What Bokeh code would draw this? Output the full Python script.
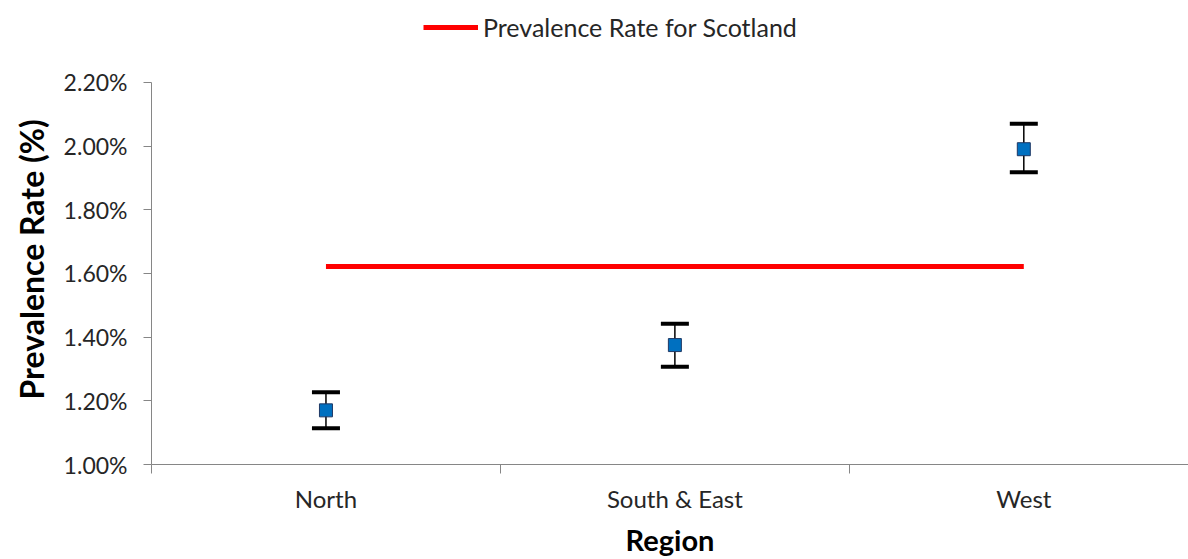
from bokeh.plotting import figure
from bokeh.models import (FixedTicker, PrintfTickFormatter, Range1d, Legend, LegendItem,
                          Whisker, TeeHead, ColumnDataSource, Title)
from bokeh.embed import file_html
from bokeh.resources import INLINE

# Prevalence rate (%) by region with 95% confidence limits
regions = ["North", "South & East", "West"]
rate = [1.17, 1.375, 1.99]
lower = [1.114, 1.307, 1.918]
upper = [1.227, 1.442, 2.070]
scotland_rate = 1.622

y_ticks = [1.0, 1.2, 1.4, 1.6, 1.8, 2.0, 2.2]

FONT = "Lato"
TEXT = "#262626"
AXIS = "#868686"

xs = [i + 0.5 for i in range(len(regions))]

# The frame runs to the top edge so the legend row can sit inside it;
# the y axis itself is bounded to the tick range.
y_top = y_ticks[0] + (y_ticks[-1] - y_ticks[0]) * 465 / 383

p = figure(width=1188, height=559, output_backend="svg", toolbar_location=None,
           x_range=Range1d(0, 2.972), y_range=Range1d(y_ticks[0], y_top),
           min_border_left=151, min_border_right=0, min_border_top=0, min_border_bottom=94)
p.outline_line_color = None
p.grid.visible = False
p.background_fill_color = "white"
p.border_fill_color = "white"

# Scotland-wide reference line spanning the regions
scot = p.line(x=[xs[0], xs[-1]], y=[scotland_rate, scotland_rate], line_color="#FF0000",
              line_width=5)

# Confidence interval whiskers
src = ColumnDataSource(dict(x=xs, rate=rate, lower=lower, upper=upper))
wh = Whisker(base="x", upper="upper", lower="lower", source=src, dimension="height",
             line_color="black", line_width=1.5,
             upper_head=TeeHead(size=28, line_width=4, line_color="black"),
             lower_head=TeeHead(size=28, line_width=4, line_color="black"))
p.add_layout(wh)

p.scatter(x="x", y="rate", source=src, marker="square", size=13,
          fill_color="#0070C0", line_color="#1F3864", line_width=1)

# X axis: category names centred between boundary ticks
p.xaxis.ticker = FixedTicker(ticks=xs, minor_ticks=[0, 1, 2, 3])
p.xaxis.major_label_overrides = {x: r for x, r in zip(xs, regions)}
p.xaxis.major_tick_line_color = None
p.xaxis.minor_tick_out = 9
p.xaxis.minor_tick_in = 0
p.xaxis.minor_tick_line_color = AXIS
p.xaxis.axis_line_color = AXIS
p.xaxis.major_label_standoff = 10
p.xaxis.major_label_text_font_size = "24px"
p.xaxis.axis_label = "Region"
p.xaxis.axis_label_standoff = 6
p.xaxis.axis_label_text_font = FONT
p.xaxis.axis_label_text_font_size = "29px"
p.xaxis.axis_label_text_font_style = "bold"
p.xaxis.axis_label_text_color = "black"
p.xaxis.axis_label_text_baseline = "middle"

p.yaxis.bounds = (y_ticks[0], y_ticks[-1])
p.yaxis.ticker = FixedTicker(ticks=y_ticks, minor_ticks=[])
p.yaxis.formatter = PrintfTickFormatter(format="%.2f%%")
p.yaxis.major_tick_out = 8
p.yaxis.major_tick_in = 0
p.yaxis.major_tick_line_color = AXIS
p.yaxis.axis_line_color = AXIS
p.yaxis.major_label_standoff = 16
p.yaxis.major_label_text_font_size = "23px"

for ax in (p.xaxis, p.yaxis):
    ax.major_label_text_font = FONT
    ax.major_label_text_color = TEXT

# Y axis title, centred on the tick range rather than the full frame
p.add_layout(Title(text="Prevalence Rate (%)", align="left", offset=65, standoff=19,
                   text_font=FONT, text_font_size="32px", text_font_style="bold",
                   text_color="black"), "left")

legend = Legend(items=[LegendItem(label="Prevalence Rate for Scotland", renderers=[scot])],
                location=(272, 422), orientation="horizontal",
                label_text_font=FONT, label_text_font_size="25px", label_text_color=TEXT,
                glyph_width=55, glyph_height=24, label_standoff=5,
                border_line_color=None, background_fill_alpha=0, padding=0, margin=0)
p.add_layout(legend, "center")

open("out.html", "w").write(file_html(p, INLINE))
